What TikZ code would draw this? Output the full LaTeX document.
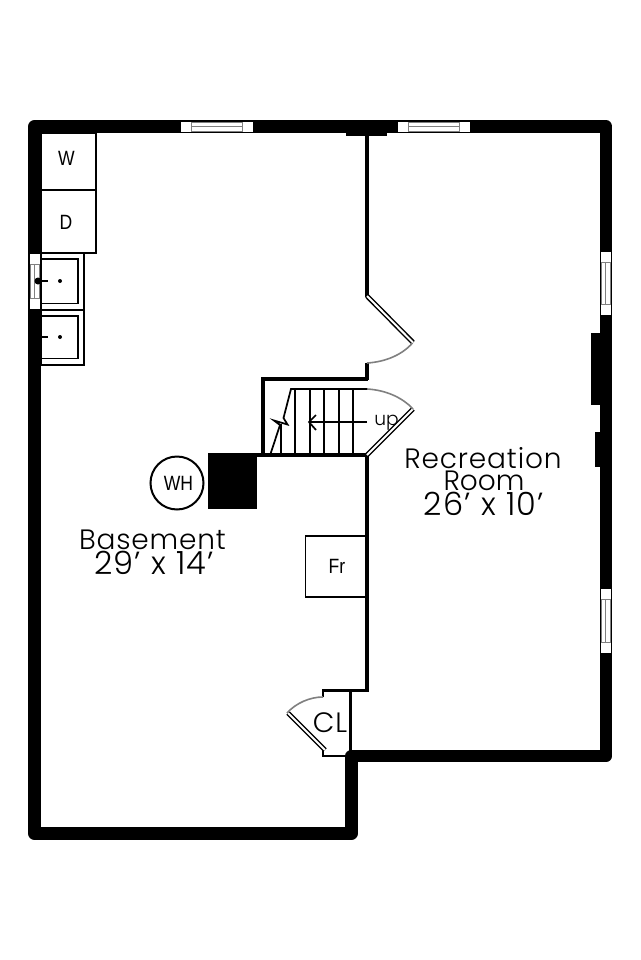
\documentclass[tikz,border=0pt]{standalone}
\usepackage{fontspec}
\setmainfont{Poppins}[UprightFont=* Light]
\newfontfamily\boxfont{Liberation Sans}[FakeStretch=0.85]
\usepackage{tikz}
\usetikzlibrary{calc}

\tikzset{
	wall/.style={draw, line width=9.4pt, line join=round},
	partition/.style={draw, line width=2.6pt},
	thin wall/.style={draw, line width=2.2pt},
	tread/.style={draw, line width=1.3pt},
	fixture/.style={draw, line width=1.4pt},
	swing/.style={draw, gray, line width=1.2pt},
	leaf/.style={draw, line width=1.1pt, double=white, double distance=1.5pt},
	pane/.style={draw=gray, fill=white, line width=0.7pt},
	label/.style={inner sep=0pt, font=\fontsize{21}{21}\selectfont\addfontfeature{LetterSpace=3}},
	size label/.style={inner sep=0pt, font=\fontsize{24}{24}\selectfont\addfontfeature{LetterSpace=4}},
	small label/.style={inner sep=0pt, font=\boxfont\fontsize{15.5}{15.5}\selectfont},
	unit/.style={draw, line width=1.4pt, inner sep=0pt, outer sep=0pt, anchor=north west},
}

\begin{document}
\begin{tikzpicture}[x=0.75pt, y=-0.75pt]
	\useasboundingbox (0, 0) rectangle (640, 960);

	% outer walls
	\path[wall] (34.5, 126.5) -- (606, 126.5) -- (606, 756) -- (351.5, 756) -- (351.5, 833.5) -- (34.5, 833.5) -- cycle;
	\path[fill] (346, 130) rectangle (387, 136);
	\path[fill] (591, 333) rectangle (602, 405);
	\path[fill] (595, 432) rectangle (602, 467);
	\path[fill] (208, 453) rectangle (257, 509);

	% windows
	\foreach \x in {181, 398} {
		\path[pane, draw=white] (\x, 122) rectangle ++(9, 9);
		\path[pane] (\x+10, 122) rectangle ++(51, 9);
		\path[pane, draw=white] (\x+62, 122) rectangle ++(9, 9);
		\path[draw, gray, line width=1pt] (\x+10, 126.5) -- ++(51, 0);
	}
	\foreach \y/\h in {252/42, 589/43} {
		\path[pane, draw=white] (601, \y) rectangle ++(9, 9);
		\path[pane] (601, \y+10) rectangle ++(9, \h);
		\path[pane, draw=white] (601, \y+\h+11) rectangle ++(9, 9);
		\path[draw, gray, line width=1pt] (605.5, \y+10) -- ++(0, \h);
	}
	\path[pane, draw=white] (30, 254) rectangle ++(9, 9);
	\path[pane] (30, 264) rectangle ++(9, 34);
	\path[pane, draw=white] (30, 299) rectangle ++(9, 9);
	\path[draw, gray, line width=1pt] (34.5, 264) -- ++(0, 34);

	% inner walls
	\path[partition] (367, 133) -- (367, 297);
	\path[partition] (367, 363) -- (367, 380);
	\path[partition] (367, 454) -- (367, 691.5);
	\path[partition] (263, 455) -- (263, 379) -- (368, 379);
	\path[partition] (257, 455) -- (368, 455);
	\path[thin wall] (367, 690.5) -- (323, 690.5) -- (323, 697);
	\path[thin wall] (323, 749) -- (323, 756) -- (346, 756);
	\path[thin wall] (350.5, 690) -- (350.5, 752);

	% doors
	\path[leaf] (367, 296) -- (413, 342.5);
	\path[swing] (412.5, 343) .. controls (402, 355) and (385, 362) .. (367, 363);
	\path[leaf] (367, 455) -- (413, 409);
	\path[swing] (367, 389) .. controls (385, 390) and (402, 397) .. (413, 409);
	\path[leaf] (325, 750) -- (288, 713);
	\path[swing] (287, 713) .. controls (296, 703) and (310, 697) .. (323, 697);

	% stairs
	\path[tread] (367, 389) -- (291, 389) -- (283.5, 418) -- (287.5, 424.5) -- (274, 420.5) -- (280, 425) -- (270.5, 454);
	\foreach \x in {295, 310, 324, 339, 353}
		\path[tread] (\x, 389) -- (\x, 454);
	\path[tread] (281, 424) -- (281, 454);
	\path[tread] (367, 422) -- (309, 422);
	\path[tread] (316, 415) -- (309, 422) -- (316, 430);

	% washer, dryer, sinks, fridge
	\node[unit, minimum width=41.25pt, minimum height=42.75pt] (washer) at (41, 133) {};
	\node[unit, minimum width=41.25pt, minimum height=47.25pt] (dryer) at (41, 190) {};
	\node[unit, minimum width=32.5pt, minimum height=42.75pt] (sink1) at (41, 253) {};
	\node[unit, minimum width=32.5pt, minimum height=41.25pt] (sink2) at (41, 310) {};
	\node[unit, minimum width=45.75pt, minimum height=45.75pt] (fridge) at (305.5, 536) {};
	\node[draw, line width=1.5pt, circle, minimum size=39.75pt, inner sep=0pt, outer sep=0pt] (heater) at (177, 483) {};
	\path[fixture] (41, 259) -- (78, 259) -- (78, 303.5) -- (41, 303.5);
	\path[fixture] (41, 316) -- (78, 316) -- (78, 358.5) -- (41, 358.5);
	\path[fixture] (38, 281) -- (48, 281);
	\path[fixture] (41, 337) -- (48, 337);
	\path[fill] (38, 281) circle (3.5);
	\path[fill] (60, 281) circle (2);
	\path[fill] (60, 337) circle (2);

	\node[small label] (wlabel) at (66.5, 158) {W};
	\node[small label] (dlabel) at (66, 222) {D};
	\node[small label] (wh) at (178.5, 483) {WH};
	\node[small label] (fr) at (337, 566) {Fr};
	\node[inner sep=0pt, font=\fontsize{14}{14}\selectfont] (up) at (386.5, 423) {up};
	\node[label] (cl) at (330, 723) {CL};
	\node[label] (basement) at (152.5, 540) {Basement};
	\node[size label] (basementsize) at (154, 563) {29’ x 14’};
	\node[label] (recreation) at (483, 458) {Recreation};
	\node[label, font=\fontsize{21}{21}\selectfont] (room) at (484, 481) {Room};
	\node[size label] (recsize) at (484, 504) {26’ x 10’};
\end{tikzpicture}
\end{document}
